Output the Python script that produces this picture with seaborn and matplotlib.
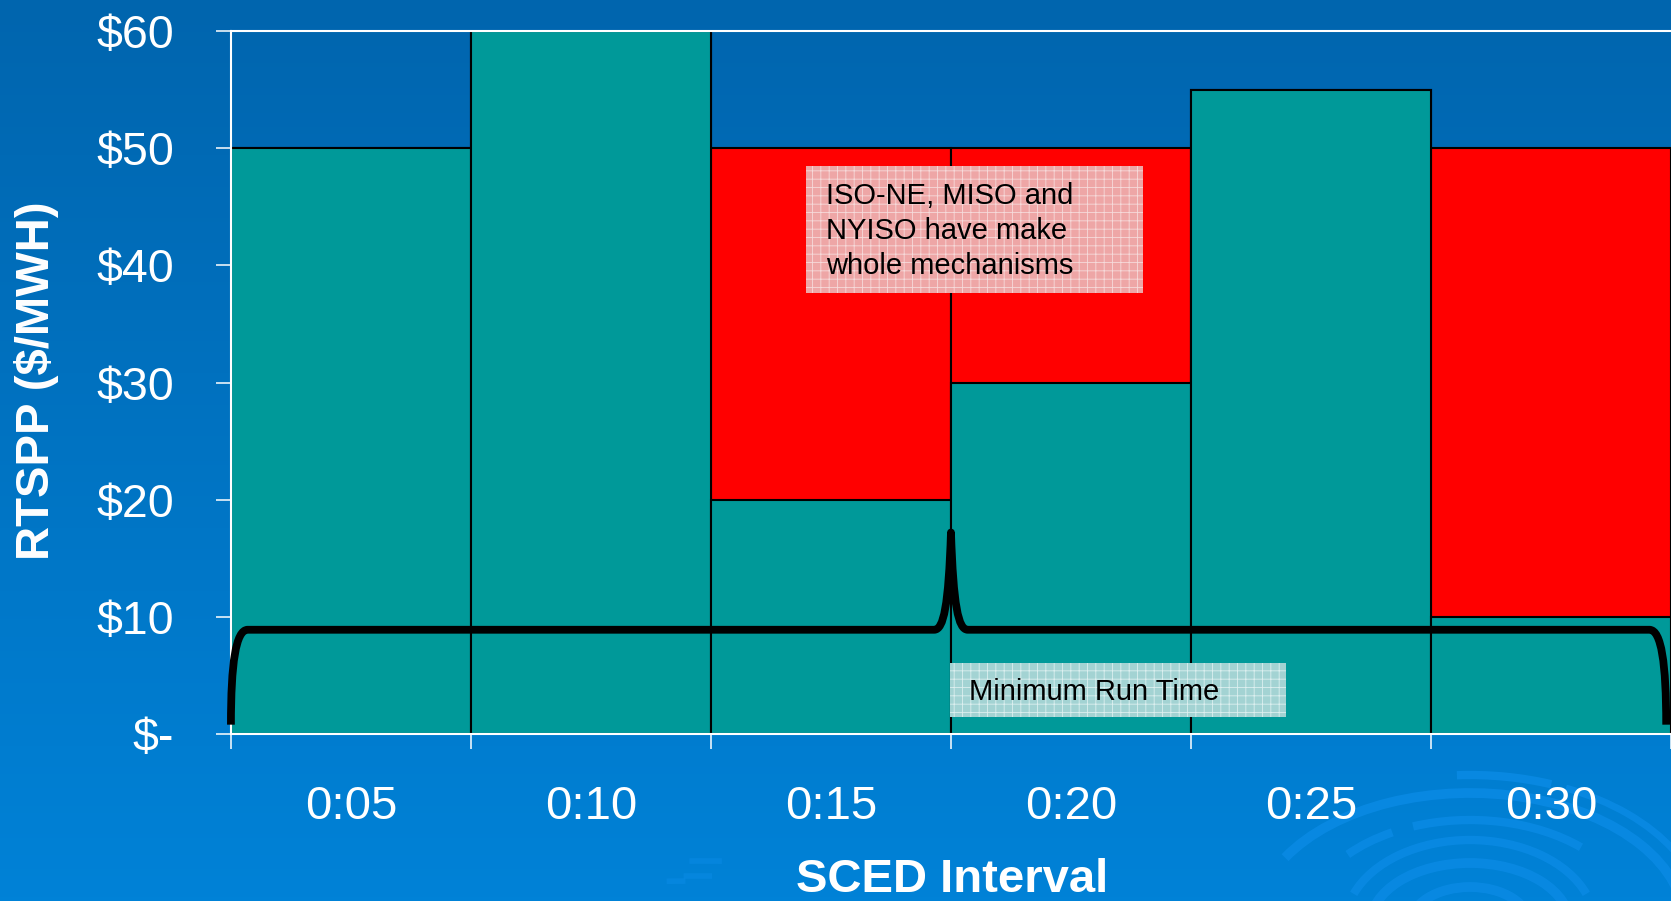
import numpy as np
import pandas as pd
import matplotlib
matplotlib.use("Agg")
import matplotlib.pyplot as plt
import seaborn as sns
from matplotlib.path import Path
from matplotlib.patches import PathPatch, Rectangle, Arc
from matplotlib.colors import LinearSegmentedColormap

sns.set_theme(style="white")
plt.rcParams["font.family"] = ["Liberation Sans", "DejaVu Sans"]

# data
intervals = ["0:05", "0:10", "0:15", "0:20", "0:25", "0:30"]
rtspp_paid = [50, 60, 20, 30, 55, 10]      # teal part
make_whole = [0, 0, 30, 20, 0, 40]         # red part on top
y_ticks = [0, 10, 20, 30, 40, 50, 60]
y_tick_labels = ["$-", "$10", "$20", "$30", "$40", "$50", "$60"]

# brace for the minimum run time (data units)
brace_level = 8.9
brace_tip = 17.2
brace_foot = 0.8

df = pd.DataFrame({
    "interval": intervals,
    "paid": rtspp_paid,
    "total": np.add(rtspp_paid, make_whole),
})

TEAL = "#009999"
RED = "#ff0000"

fig = plt.figure(figsize=(16.71, 9.01), dpi=100)

# slide background (pixel coords, y up)
bg = fig.add_axes([0, 0, 1, 1], zorder=0)
grad = np.linspace(0, 1, 256).reshape(-1, 1)
cmap = LinearSegmentedColormap.from_list("slide", ["#0065ae", "#0082d7"])
bg.imshow(grad, cmap=cmap, aspect="auto", extent=[0, 1671, 0, 901], origin="upper")
bg.set_xlim(0, 1671)
bg.set_ylim(0, 901)
bg.axis("off")
swirl = "#0a8ae4"
for rx, ry, t1, t2, lw in [(235, 150, 60, 95, 6), (235, 150, 20, 55, 5),
                           (215, 132, 0, 160, 7), (165, 105, 35, 120, 6),
                           (165, 105, 130, 150, 6), (125, 85, 15, 165, 6),
                           (100, 62, 0, 180, 7), (60, 38, 0, 180, 7)]:
    bg.add_patch(Arc((1470, -24), 2 * rx, 2 * ry, theta1=t1, theta2=t2,
                     color=swirl, lw=lw, alpha=0.85))
for rx, ry, t1, t2 in [(420, 60, 70, 100), (430, 45, 75, 110), (300, 40, 110, 130)]:
    bg.add_patch(Arc((700, -20), 2 * rx, 2 * ry, theta1=t1, theta2=t2,
                     color=swirl, lw=4, alpha=0.6))

ax = fig.add_axes([0.1382, 0.1853, 0.8618, 0.7803], zorder=1)
ax.patch.set_alpha(0)

sns.barplot(data=df, x="interval", y="total", color=RED, saturation=1, width=1,
            edgecolor="black", linewidth=1.5, errorbar=None, ax=ax)
sns.barplot(data=df, x="interval", y="paid", color=TEAL, saturation=1, width=1,
            edgecolor="black", linewidth=1.5, errorbar=None, ax=ax)

ax.set_xlim(-0.5, len(intervals) - 0.5)
ax.set_ylim(0, 60)
ax.set_xlabel("")
ax.set_ylabel("")
ax.set_yticks(y_ticks)
ax.set_yticklabels(y_tick_labels)
ax.set_xticks(np.arange(-0.5, len(intervals)), minor=True)

ax.tick_params(axis="y", direction="out", length=10.8, width=1.1, color="white",
               labelcolor="white", labelsize=33.5, pad=30, left=True)
ax.tick_params(axis="x", which="major", length=0, labelcolor="white", labelsize=34, pad=37)
ax.tick_params(axis="x", which="minor", direction="out", length=10.8, width=1.1,
               color="white", bottom=True)

for side in ["left", "bottom", "top"]:
    ax.spines[side].set_color("white")
    ax.spines[side].set_linewidth(1.5)
ax.spines["right"].set_visible(False)

# curly brace
x0, xm, x1 = -0.5, 2.5, 5.48
verts = [
    (x0, brace_foot), (x0, 6), (x0 + 0.02, brace_level), (x0 + 0.07, brace_level),
    (xm - 0.07, brace_level),
    (xm - 0.03, brace_level), (xm - 0.01, 11), (xm, brace_tip),
    (xm + 0.01, 11), (xm + 0.03, brace_level), (xm + 0.07, brace_level),
    (x1 - 0.07, brace_level),
    (x1 - 0.02, brace_level), (x1, 6), (x1, brace_foot),
]
codes = [Path.MOVETO, Path.CURVE4, Path.CURVE4, Path.CURVE4,
         Path.LINETO,
         Path.CURVE4, Path.CURVE4, Path.CURVE4,
         Path.CURVE4, Path.CURVE4, Path.CURVE4,
         Path.LINETO,
         Path.CURVE4, Path.CURVE4, Path.CURVE4]
ax.add_patch(PathPatch(Path(verts, codes), facecolor="none", edgecolor="black",
                       lw=5.6, capstyle="butt", joinstyle="round", zorder=4, clip_on=False))

# callout boxes
plt.rcParams["hatch.linewidth"] = 0.6
ax.add_patch(Rectangle((1.896, 37.6), 1.404, 10.9, facecolor="#eea6a6", edgecolor="#f6dada",
                       hatch="++", lw=0, zorder=5))
ax.text(1.979, 47.1, "ISO-NE, MISO and\nNYISO have make\nwhole mechanisms",
        ha="left", va="top", fontsize=21, color="black", linespacing=1.32, zorder=6)
ax.add_patch(Rectangle((2.496, 1.45), 1.4, 4.65, facecolor="#a3d3d3", edgecolor="#dcefef",
                       hatch="++", lw=0, zorder=5))
ax.text(2.575, 2.9, "Minimum Run Time", ha="left", va="baseline", fontsize=21,
        color="black", zorder=6)

fig.text(37 / 1671, 1 - 381 / 901, "RTSPP ($/MWH)", rotation=90, ha="center", va="center",
         fontsize=34, fontweight="bold", color="white")
fig.text(952 / 1671, 1 - 892 / 901, "SCED Interval", ha="center", va="baseline",
         fontsize=34, fontweight="bold", color="white")

fig.savefig("out.png", dpi=100)
